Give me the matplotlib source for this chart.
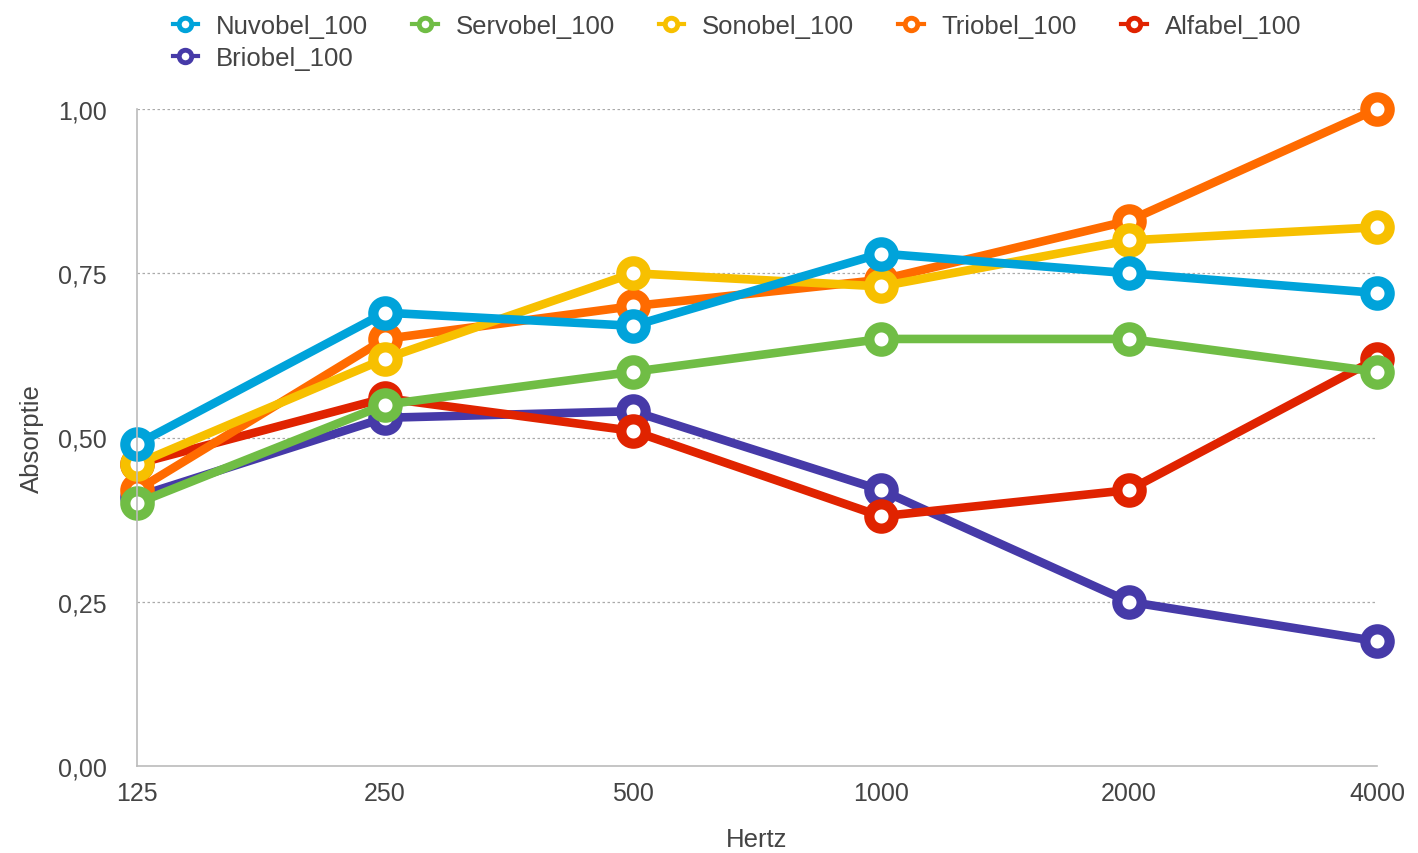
import matplotlib.pyplot as plt
from matplotlib.lines import Line2D
from matplotlib.ticker import FixedLocator, FuncFormatter

plt.rcParams['font.family'] = ['Liberation Sans', 'DejaVu Sans']

freqs = ["125", "250", "500", "1000", "2000", "4000"]
series_names = ["Nuvobel_100", "Servobel_100", "Sonobel_100", "Triobel_100",
                "Alfabel_100", "Briobel_100"]
nuvobel = [0.49, 0.69, 0.67, 0.78, 0.75, 0.72]
servobel = [0.40, 0.55, 0.60, 0.65, 0.65, 0.60]
sonobel = [0.46, 0.62, 0.75, 0.73, 0.80, 0.82]
triobel = [0.42, 0.65, 0.70, 0.74, 0.83, 1.00]
alfabel = [0.46, 0.56, 0.51, 0.38, 0.42, 0.62]
briobel = [0.41, 0.53, 0.54, 0.42, 0.25, 0.19]
series_values = [nuvobel, servobel, sonobel, triobel, alfabel, briobel]
colors = ["#00a3da", "#70bd45", "#f7c000", "#ff6b00", "#e02300", "#463aa8"]

fig = plt.figure(figsize=(14.18, 8.54), dpi=100)
ax = fig.add_axes([137 / 1418, 1 - 767 / 854, 1240 / 1418, 657 / 854])

x = list(range(len(freqs)))
# reverse order so the first series ends on top
for name, vals, col in reversed(list(zip(series_names, series_values, colors))):
    ax.plot(x, vals, color=col, lw=6.2, marker='o', ms=17.5, mew=7.4,
            mfc='white', mec=col, clip_on=False, solid_capstyle='round')

ax.set_xlim(0, 5)
ax.set_ylim(0, 1.0)
ax.set_xticks(x)
ax.set_xticklabels(freqs)
ax.yaxis.set_major_locator(FixedLocator([0, 0.25, 0.5, 0.75, 1.0]))
ax.yaxis.set_major_formatter(FuncFormatter(lambda v, p: f"{v:.2f}".replace('.', ',')))
ax.tick_params(axis='both', length=0, labelsize=18, colors='#444444')
ax.tick_params(axis='y', pad=22)
ax.tick_params(axis='x', pad=11)

for v in [0.25, 0.5, 0.75, 1.0]:
    ax.axhline(v, color='#aaaaaa', lw=0.9, ls=(0, (2, 2)), zorder=0)

for s in ['top', 'right']:
    ax.spines[s].set_visible(False)
for s in ['left', 'bottom']:
    ax.spines[s].set_color('#bbbbbb')
    ax.spines[s].set_linewidth(1.2)

ax.set_xlabel("Hertz", fontsize=18.5, color='#444444', labelpad=16)
ax.set_ylabel("Absorptie", fontsize=18.5, color='#444444', labelpad=10)

# legend fills column by column, so reorder to read row by row
order = [0, 5, 1, 2, 3, 4]
handles = [Line2D([], [], color=colors[i], lw=3, marker='o', ms=9, mew=3.5,
                  mfc='white', mec=colors[i]) for i in order]
labels = [series_names[i] for i in order]
fig.legend(handles, labels, loc='upper left', bbox_to_anchor=(0.109, 1.003),
           ncol=5, frameon=False, fontsize=18.5, handlelength=1.0,
           handletextpad=0.7, columnspacing=1.7, labelcolor='#444444',
           borderaxespad=0.3, labelspacing=0.3)

fig.savefig("out.png", dpi=100)
